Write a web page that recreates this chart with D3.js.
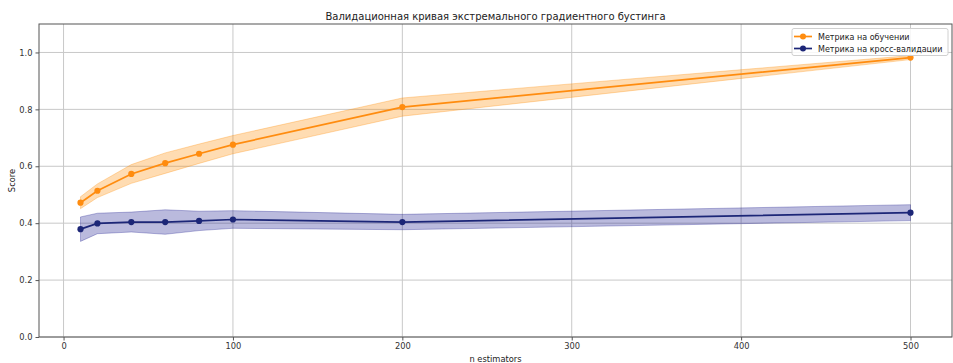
<!DOCTYPE html>
<html>
<head>
<meta charset="utf-8">
<script src="https://cdn.jsdelivr.net/npm/d3@7/dist/d3.min.js"></script>
<style>
  html, body { margin: 0; padding: 0; background: #fff; }
  svg { display: block; font-family: "DejaVu Sans", sans-serif; }
</style>
</head>
<body>
<svg id="chart" width="953" height="363"></svg>
<script>
// Number of boosting rounds tried
const nEstimators = [10, 20, 40, 60, 80, 100, 200, 500];

// Mean and spread of the score on the training folds
const trainMean = [0.472, 0.514, 0.573, 0.611, 0.644, 0.676, 0.808, 0.982];
const trainStd  = [0.021, 0.024, 0.033, 0.036, 0.034, 0.032, 0.032, 0.007];

// Mean and spread of the score on the cross-validation folds
const testMean = [0.379, 0.399, 0.404, 0.404, 0.408, 0.413, 0.404, 0.437];
const testStd  = [0.043, 0.036, 0.035, 0.043, 0.034, 0.031, 0.027, 0.028];

const xTicks = [0, 100, 200, 300, 400, 500];
const yTicks = [0.0, 0.2, 0.4, 0.6, 0.8, 1.0];

const title = "Валидационная кривая экстремального градиентного бустинга";
const xLabel = "n estimators";
const yLabel = "Score";
const seriesNames = ["Метрика на обучении", "Метрика на кросс-валидации"];

const svg = d3.select("#chart");
const margin = { left: 39, right: 1, top: 24, bottom: 26 };
const W = 953, H = 363;
const plotW = W - margin.left - margin.right;
const plotH = H - margin.top - margin.bottom;

const x = d3.scaleLinear().domain([-14.5, 524.5]).range([margin.left, margin.left + plotW]);
const y = d3.scaleLinear().domain([0, 1.1]).range([margin.top + plotH, margin.top]);

const orange = "#ff8c0f";
const navy = "#1c2677";

// grid
const grid = svg.append("g");
grid.selectAll(".gx").data(xTicks).join("line")
  .attr("x1", d => x(d)).attr("x2", d => x(d))
  .attr("y1", margin.top).attr("y2", margin.top + plotH)
  .attr("stroke", "#c8c8c8").attr("stroke-width", 1);
grid.selectAll(".gy").data(yTicks).join("line")
  .attr("y1", d => y(d)).attr("y2", d => y(d))
  .attr("x1", margin.left).attr("x2", margin.left + plotW)
  .attr("stroke", "#c8c8c8").attr("stroke-width", 1);

// one band + line + markers per series
const series = [
  { name: seriesNames[0], mean: trainMean, std: trainStd, color: orange, fill: "rgba(255,140,0,0.3)" },
  { name: seriesNames[1], mean: testMean,  std: testStd,  color: navy,   fill: "rgba(0,0,128,0.27)" }
];

series.forEach(s => {
  const pts = nEstimators.map((n, i) => ({ n, m: s.mean[i], sd: s.std[i] }));
  const area = d3.area()
    .x(d => x(d.n))
    .y0(d => y(d.m - d.sd))
    .y1(d => y(d.m + d.sd));
  svg.append("path").datum(pts)
    .attr("d", area)
    .attr("fill", s.fill)
    .attr("stroke", s.fill)
    .attr("stroke-width", 1);
  const line = d3.line().x(d => x(d.n)).y(d => y(d.m));
  svg.append("path").datum(pts)
    .attr("d", line)
    .attr("fill", "none")
    .attr("stroke", s.color)
    .attr("stroke-width", 1.7);
  svg.append("g").selectAll("circle").data(pts).join("circle")
    .attr("cx", d => x(d.n)).attr("cy", d => y(d.m))
    .attr("r", 3.1).attr("fill", s.color);
});

// spines
svg.append("rect")
  .attr("x", margin.left).attr("y", margin.top)
  .attr("width", plotW).attr("height", plotH)
  .attr("fill", "none").attr("stroke", "#555").attr("stroke-width", 1);

// axes
const xAxis = svg.append("g")
  .attr("transform", `translate(0,${margin.top + plotH})`)
  .call(d3.axisBottom(x).tickValues(xTicks).tickFormat(d3.format("d")).tickSize(3.5).tickPadding(3));
const yAxis = svg.append("g")
  .attr("transform", `translate(${margin.left},0)`)
  .call(d3.axisLeft(y).tickValues(yTicks).tickFormat(d3.format(".1f")).tickSize(3.5).tickPadding(3));
[xAxis, yAxis].forEach(a => {
  a.select(".domain").remove();
  a.selectAll(".tick line").attr("stroke", "#555");
  a.selectAll(".tick text").attr("fill", "#333").style("font-size", "8.3px")
    .style("font-family", "DejaVu Sans, sans-serif");
});

// title and axis labels
svg.append("text")
  .attr("x", margin.left + plotW / 2).attr("y", 20)
  .attr("text-anchor", "middle").attr("fill", "#222")
  .style("font-size", "10px").text(title);
svg.append("text")
  .attr("x", margin.left + plotW / 2).attr("y", 362)
  .attr("text-anchor", "middle").attr("fill", "#222")
  .style("font-size", "8.3px").text(xLabel);
svg.append("text")
  .attr("transform", `translate(15,${margin.top + plotH / 2}) rotate(-90)`)
  .attr("text-anchor", "middle").attr("fill", "#222")
  .style("font-size", "8.3px").text(yLabel);

// legend
const lg = svg.append("g").attr("transform", "translate(792,28.5)");
lg.append("rect")
  .attr("width", 156).attr("height", 27).attr("rx", 2)
  .attr("fill", "rgba(255,255,255,0.85)").attr("stroke", "#d0d0d0").attr("stroke-width", 1);
series.forEach((s, i) => {
  const cy = 8 + i * 12;
  lg.append("line").attr("x1", 2).attr("x2", 20).attr("y1", cy).attr("y2", cy)
    .attr("stroke", s.color).attr("stroke-width", 1.7);
  lg.append("circle").attr("cx", 11).attr("cy", cy).attr("r", 3).attr("fill", s.color);
  lg.append("text").attr("x", 26).attr("y", cy + 3).attr("fill", "#222")
    .style("font-size", "8px").text(s.name);
});
</script>
</body>
</html>
